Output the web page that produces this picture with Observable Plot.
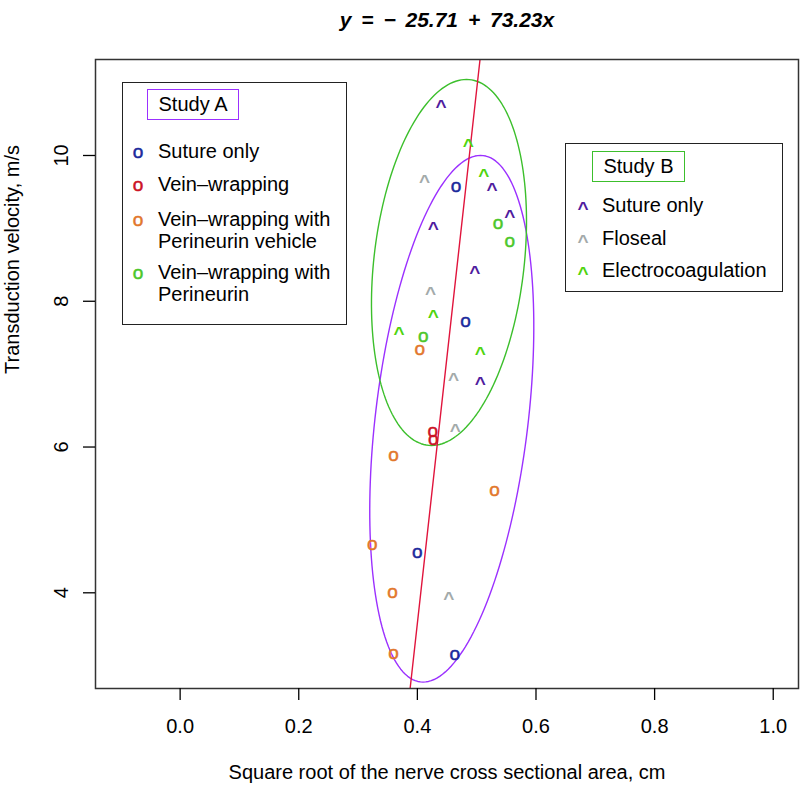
<!DOCTYPE html>
<html><head><meta charset="utf-8">
<script src="https://cdn.jsdelivr.net/npm/d3@7"></script>
<script src="https://cdn.jsdelivr.net/npm/@observablehq/plot@0.6"></script>
<style>
body{margin:0;background:#fff;font-family:"Liberation Sans",Arial,Helvetica,sans-serif;}
#wrap{position:relative;width:800px;height:786px;}
.box{position:absolute;border:1.5px solid #222;background:#fff;box-sizing:border-box;}
.tbox{position:absolute;box-sizing:border-box;border:1.5px solid;font-size:20px;display:flex;align-items:center;justify-content:center;color:#000;}
.lab{position:absolute;font-size:20px;line-height:1;white-space:nowrap;transform:translateY(-50%);color:#000;}
.mk{position:absolute;font-size:19px;line-height:1;transform:translate(-50%,-50%);}
</style></head><body><div id="wrap"></div>
<script>
// ---- Data ----
const titleText = "y = − 25.71 + 73.23x";
const xLabel = "Square root of the nerve cross sectional area, cm";
const yLabel = "Transduction velocity, m/s";
const xTicks = [0, 0.2, 0.4, 0.6, 0.8, 1.0];
const xTickLabels = ["0.0", "0.2", "0.4", "0.6", "0.8", "1.0"];
const yTicks = [4, 6, 8, 10];
const yTickLabels = ["4", "6", "8", "10"];

// Study A (symbol "o")
const groupsA = ["Suture only", "Vein–wrapping", "Vein–wrapping with\nPerineurin vehicle", "Vein–wrapping with\nPerineurin"];
const colorsA = ["#1b2a9c", "#cc1426", "#e2772c", "#4cc72a"];
const aSutureX = [0.465, 0.481, 0.400, 0.463];
const aSutureY = [9.60, 7.74, 4.57, 3.17];
const aVeinX = [0.426, 0.427];
const aVeinY = [6.24, 6.13];
const aVehicleX = [0.404, 0.360, 0.530, 0.324, 0.358, 0.360];
const aVehicleY = [7.36, 5.91, 5.42, 4.69, 4.03, 3.19];
const aPeriX = [0.410, 0.536, 0.556];
const aPeriY = [7.54, 9.09, 8.84];

// Study B (symbol "^")
const groupsB = ["Suture only", "Floseal", "Electrocoagulation"];
const colorsB = ["#4f1c9e", "#a3aaaa", "#4fd40f"];
const bSutureX = [0.440, 0.526, 0.556, 0.427, 0.497, 0.506];
const bSutureY = [10.72, 9.58, 9.21, 9.04, 8.44, 6.91];
const bFlosealX = [0.412, 0.422, 0.461, 0.464, 0.453];
const bFlosealY = [9.68, 8.15, 6.97, 6.27, 3.96];
const bElectroX = [0.486, 0.512, 0.427, 0.369, 0.506];
const bElectroY = [10.18, 9.77, 7.84, 7.60, 7.33];

// Ellipses (center, half-width, half-height, correlation)
const ellipseStudy = ["Study A", "Study B"];
const ellipseCx = [0.458, 0.4533];
const ellipseCy = [6.388, 8.532];
const ellipseRx = [0.1383, 0.1307];
const ellipseRy = [3.613, 2.511];
const ellipseRho = [0.35, 0.226];
const ellipseColors = ["#9b30ff", "#3cbf2c"];

// Regression line
const fitIntercept = -25.71;
const fitSlope = 73.23;

const xDomain = [-0.1427, 1.0426];
const yDomain = [2.687, 11.317];

// ---- Build tables ----
const zip = (xs, ys) => xs.map((x, i) => ({x, y: ys[i]}));
const seriesA = [zip(aSutureX, aSutureY), zip(aVeinX, aVeinY), zip(aVehicleX, aVehicleY), zip(aPeriX, aPeriY)];
const seriesB = [zip(bSutureX, bSutureY), zip(bFlosealX, bFlosealY), zip(bElectroX, bElectroY)];

const ellipses = ellipseStudy.map((s, k) => {
  const pts = [];
  const q = Math.sqrt(1 - ellipseRho[k] ** 2);
  for (let a = 0; a <= 360; a += 2) {
    const t = a * Math.PI / 180;
    pts.push({
      x: ellipseCx[k] + ellipseRx[k] * (ellipseRho[k] * Math.cos(t) + q * Math.sin(t)),
      y: ellipseCy[k] + ellipseRy[k] * Math.cos(t)
    });
  }
  return pts;
});

const fitLine = yDomain.map(y => ({x: (y - fitIntercept) / fitSlope, y}));

const font = "Liberation Sans, Arial, Helvetica, sans-serif";
const marks = [];
ellipses.forEach((pts, k) => marks.push(Plot.line(pts, {x: "x", y: "y", stroke: ellipseColors[k], strokeWidth: 1.4})));
marks.push(Plot.line(fitLine, {x: "x", y: "y", stroke: "#e0143c", strokeWidth: 1.4, clip: true}));
seriesA.forEach((d, k) => marks.push(Plot.text(d, {x: "x", y: "y", text: () => "o", fill: colorsA[k], fontSize: 19, dy: 1, fontFamily: font, stroke: colorsA[k], strokeWidth: 0.5})));
seriesB.forEach((d, k) => marks.push(Plot.text(d, {x: "x", y: "y", text: () => "^", fill: colorsB[k], fontSize: 19, dy: 3.5, fontFamily: font, fontWeight: "bold"})));
marks.push(Plot.frame({stroke: "#333", strokeWidth: 1.5}));
marks.push(Plot.axisX(xTicks, {tickSize: 12, tickPadding: 18, fontSize: 20, tickFormat: (d) => xTickLabels[xTicks.indexOf(d)], label: null, strokeWidth: 1.3}));
marks.push(Plot.axisY(yTicks, {tickSize: 12, tickPadding: 16, tickRotate: -90, fontSize: 20, tickFormat: (d) => yTickLabels[yTicks.indexOf(d)], label: null, strokeWidth: 1.3}));
marks.push(Plot.text([xLabel], {frameAnchor: "bottom", dy: 90, fontSize: 20, fontFamily: font}));
marks.push(Plot.text([yLabel], {frameAnchor: "left", dx: -83, rotate: -90, fontSize: 20, fontFamily: font}));
marks.push(Plot.text([titleText], {frameAnchor: "top", dy: -47, fontSize: 21, fontWeight: "bold", fontStyle: "italic", fontFamily: font}));

const chart = Plot.plot({
  width: 800, height: 786,
  marginLeft: 95, marginRight: 2, marginTop: 59, marginBottom: 98,
  style: {fontFamily: font, color: "#000", background: "#fff"},
  x: {domain: xDomain},
  y: {domain: yDomain},
  marks
});
chart.querySelectorAll("text").forEach(t => { if (t.textContent === titleText) t.style.wordSpacing = "4px"; });

const wrap = document.getElementById("wrap");
wrap.appendChild(chart);

function el(cls, css, html) {
  const d = document.createElement("div");
  d.className = cls;
  Object.assign(d.style, css);
  d.innerHTML = html;
  wrap.appendChild(d);
  return d;
}
// Legend A
el("box", {left: "122px", top: "82px", width: "225px", height: "243px"}, "");
el("tbox", {left: "147px", top: "89px", width: "92px", height: "31px", borderColor: ellipseColors[0]}, ellipseStudy[0]);
const rowsA = [151, 184, 219, 272];
groupsA.forEach((g, k) => {
  el("mk", {left: "138px", top: rowsA[k] + "px", color: colorsA[k], webkitTextStroke: "0.5px " + colorsA[k]}, "o");
  g.split("\n").forEach((line, j) => el("lab", {left: "158px", top: (rowsA[k] + j * 22) + "px"}, line));
});
// Legend B
el("box", {left: "565px", top: "143px", width: "218px", height: "149px"}, "");
el("tbox", {left: "592px", top: "151px", width: "93px", height: "31px", borderColor: ellipseColors[1]}, ellipseStudy[1]);
const rowsB = [205, 238, 270];
groupsB.forEach((g, k) => {
  el("mk", {left: "583px", top: (rowsB[k] + 3) + "px", color: colorsB[k], fontWeight: "bold"}, "^");
  el("lab", {left: "602px", top: rowsB[k] + "px"}, g);
});
</script></body></html>
